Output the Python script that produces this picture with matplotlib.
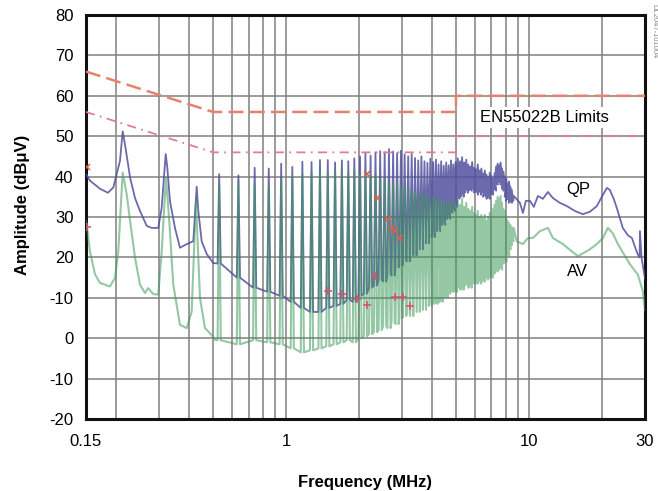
import numpy as np
import matplotlib
matplotlib.use('Agg')
import matplotlib.pyplot as plt
from matplotlib.ticker import LogLocator, NullFormatter

plt.rcParams['font.family'] = ['Liberation Sans', 'DejaVu Sans']

# low end (0.15 - 0.5 MHz), broad peaks
qp_low_f = [0.150, 0.1557, 0.1712, 0.1846, 0.1943, 0.2070, 0.2124, 0.2170, 0.2279, 0.2387,
            0.2502, 0.2667, 0.2796, 0.2976, 0.3074, 0.3193, 0.3241, 0.3324, 0.3486, 0.3655,
            0.3900, 0.4147, 0.4283, 0.4349, 0.4490, 0.4713, 0.5012]
qp_low_db = [40.6, 39.0, 37.0, 36.0, 37.3, 43.9, 51.2, 48.0, 39.7, 34.7,
             31.5, 27.8, 27.3, 27.3, 32.3, 45.6, 42.3, 34.0, 27.3, 22.4,
             23.3, 24.0, 37.5, 31.5, 24.0, 20.8, 18.6]

av_low_f = [0.150, 0.1510, 0.1557, 0.1634, 0.1712, 0.1881, 0.1974, 0.2037, 0.2124, 0.2206,
            0.2279, 0.2387, 0.2502, 0.2624, 0.2706, 0.2838, 0.2976, 0.3074, 0.3201, 0.3303,
            0.3430, 0.3655, 0.3900, 0.4084, 0.4254, 0.4418, 0.4632, 0.4935, 0.5093]
av_low_db = [29.0, 28.2, 21.5, 15.8, 13.7, 12.8, 14.9, 21.5, 41.0, 35.6,
             29.0, 19.9, 13.3, 11.2, 12.4, 10.9, 10.8, 21.5, 39.8, 29.0,
             13.3, 3.3, 2.5, 6.6, 34.0, 10.0, 2.5, 0.8, -0.4]

# switching harmonics 0.53 - 8.5 MHz
harm_f = [0.530, 0.636, 0.742, 0.848, 0.954, 1.060, 1.166, 1.272, 1.378, 1.484,
          1.590, 1.696, 1.802, 1.908, 2.014, 2.120, 2.226, 2.332, 2.438, 2.544,
          2.650, 2.756, 2.862, 2.968, 3.074, 3.180, 3.286, 3.392, 3.498, 3.604,
          3.710, 3.816, 3.922, 4.028, 4.134, 4.240, 4.346, 4.452, 4.558, 4.664,
          4.770, 4.876, 4.982, 5.088, 5.194, 5.300, 5.406, 5.512, 5.618, 5.724,
          5.830, 5.936, 6.042, 6.148, 6.254, 6.360, 6.466, 6.572, 6.678, 6.784,
          6.890, 6.996, 7.102, 7.208, 7.314, 7.420, 7.526, 7.632, 7.738, 7.844,
          7.950, 8.056, 8.162, 8.268, 8.374, 8.480]

qp_peak = [40.6, 40.3, 42.2, 42.0, 43.2, 42.4, 43.7, 43.6, 44.1, 44.1,
           43.5, 44.0, 43.8, 44.5, 45.0, 45.8, 45.2, 46.0,
           46.3, 46.0, 46.8, 46.2, 45.8, 46.4,
           45.5, 45.0, 45.6, 44.6, 44.0, 45.0, 43.8, 43.4,
           44.4, 43.6, 44.2, 43.0, 43.8, 42.7, 43.5, 42.8, 44.0, 43.0, 43.6,
           44.5, 43.8, 44.8, 43.5, 44.2, 43.0, 42.5, 43.6, 42.2, 41.8,
           43.0, 41.5, 42.0, 40.8, 41.5, 40.5, 39.8, 41.0, 40.2, 39.5,
           40.8, 42.5, 43.2, 42.8, 43.5, 42.0, 41.2, 40.0, 39.5, 38.2,
           38.8, 37.5, 36.8]
qp_valley = [18.5, 15.0, 12.5, 11.5, 10.5, 9.0, 7.5, 6.5, 6.5, 7.5,
             8.0, 8.5, 9.5, 9.0, 10.5, 11.0, 12.5, 13.0,
             14.5, 14.0, 16.0, 15.5, 17.5, 18.0,
             19.5, 19.0, 21.0, 20.5, 22.5, 22.0, 24.0, 23.5,
             25.5, 25.0, 27.0, 26.5, 28.5, 28.0, 30.0, 29.5, 31.0, 31.5, 32.5,
             34.5, 36.0, 35.0, 37.5, 36.0, 38.0, 36.5, 37.0, 38.5, 36.0,
             37.5, 35.5, 37.0, 36.0, 35.0, 36.5, 34.5, 36.0, 35.5, 37.0,
             36.5, 38.0, 39.0, 38.5, 39.5, 38.0, 37.0, 36.5, 35.0, 34.0,
             35.0, 33.5, 34.0]

av_peak = [38.0, 39.0, 38.2, 37.0, 39.0, 40.0, 40.5, 41.0, 41.5, 41.0,
           41.5, 42.0, 41.0, 41.5, 40.5, 41.0, 40.0, 40.5,
           39.0, 39.5, 38.5, 38.0, 38.5, 37.5,
           37.0, 36.5, 37.0, 36.0, 35.5, 36.0, 35.0, 35.5,
           34.5, 35.0, 34.0, 34.5, 33.5, 34.0, 33.0, 34.0, 33.5, 32.5, 33.0,
           34.0, 33.0, 34.5, 32.5, 33.5, 32.0, 31.5, 32.5, 31.0, 30.5,
           31.5, 30.0, 30.5, 29.5, 30.5, 29.0, 30.0, 31.0, 30.0, 32.0,
           33.0, 34.0, 35.0, 34.5, 35.2, 33.5, 32.0, 31.5, 30.0, 29.0,
           28.5, 28.0, 27.5]
av_valley = [-0.5, -1.5, -0.5, -1.0, -1.5, -2.5, -3.5, -3.0, -2.5, -2.0,
             -1.5, -1.0, -0.5, -1.0, 0.0, 0.5, 1.0, 1.5,
             2.0, 3.0, 2.5, 4.0, 3.5, 5.0,
             5.5, 6.0, 5.5, 7.0, 6.5, 7.5, 7.0, 8.5,
             8.0, 9.0, 8.5, 9.5, 9.0, 10.5, 10.0, 11.0, 11.5, 12.0, 11.5,
             12.5, 14.0, 12.0, 15.0, 13.0, 14.5, 12.5, 15.5, 13.5, 14.0,
             16.0, 13.5, 15.0, 14.0, 16.5, 14.5, 15.5, 17.0, 15.0, 16.0,
             18.0, 16.5, 17.5, 19.0, 17.0, 18.5, 20.0, 19.0, 21.0, 20.5,
             22.0, 23.0, 24.0]

# high end (8.6 - 30 MHz)
qp_high_f = [8.65, 9.17, 9.43, 9.70, 10.08, 10.46, 10.87, 11.40, 11.95, 12.53,
             13.39, 14.31, 15.43, 16.64, 17.80, 19.00, 19.93, 20.90, 21.50, 22.30,
             22.98, 24.30, 25.50, 26.50, 27.50, 28.00, 28.50, 28.60, 29.05, 29.66, 30.0]
qp_high_db = [35.2, 33.5, 31.0, 34.0, 34.0, 32.5, 35.2, 34.5, 36.2, 34.7,
              33.5, 32.7, 31.5, 30.7, 31.3, 32.7, 35.0, 37.2, 36.7, 34.5,
              32.2, 27.3, 25.5, 24.8, 22.0, 20.8, 20.0, 26.5, 19.8, 16.5, 14.8]

av_high_f = [8.65, 8.89, 9.43, 9.89, 10.37, 11.08, 11.95, 12.53, 13.77, 15.88,
             17.80, 19.00, 20.13, 21.10, 22.10, 23.20, 26.00, 28.00, 29.40, 30.0]
av_high_db = [27.3, 24.0, 23.3, 24.8, 24.8, 26.5, 27.3, 24.8, 23.3, 20.3,
              22.0, 23.3, 24.8, 27.3, 26.0, 23.3, 18.3, 15.8, 11.6, 7.0]

# EN55022B class B limits
lim_f = [0.15, 0.5, 5.0, 5.0, 30.0]
lim_qp = [66, 56, 56, 60, 60]
lim_av = [56, 46, 46, 50, 50]

# analyzer peak markers
mark_x_f = [0.151, 2.15, 2.36, 2.62, 2.73, 2.80, 2.94]
mark_x_db = [42.5, 40.7, 34.7, 29.5, 27.4, 26.6, 24.8]
mark_p_f = [0.151, 1.486, 1.70, 1.96, 2.15, 2.32, 2.80, 3.02, 3.23]
mark_p_db = [27.5, 11.6, 10.9, 9.6, 8.3, 15.3, 10.2, 10.2, 7.9]

ytick_vals = [-20, -10, 0, 10, 20, 30, 40, 50, 60, 70, 80]
ytick_text = ['-20', '-10', '0', '-10', '20', '30', '40', '50', '60', '70', '80']
xtick_vals = [0.15, 1, 10, 30]
xtick_text = ['0.15', '1', '10', '30']


def build_trace(f_low, db_low, peaks, valleys, f_high, db_high, w=0.015):
    xs, ys = list(f_low), list(db_low)
    for f, pk, vl in zip(harm_f, peaks, valleys):
        xs += [f * (1 - w), f, f * (1 + w)]
        ys += [vl, pk, vl]
    xs += f_high
    ys += db_high
    return xs, ys


fig = plt.figure(figsize=(6.58, 4.91), dpi=100)
ax = fig.add_axes([86/658, 1 - 419/491, 559/658, 404/491])
ax.set_xscale('log')

qx, qy = build_trace(qp_low_f, qp_low_db, qp_peak, qp_valley, qp_high_f, qp_high_db)
vx, vy = build_trace(av_low_f, av_low_db, av_peak, av_valley, av_high_f, av_high_db)

ax.plot(qx, qy, color='#50509e', lw=1.3, alpha=0.85, zorder=3)
ax.plot(vx, vy, color='#3f9a5c', lw=1.5, alpha=0.55, zorder=4)

l1, = ax.plot(lim_f, lim_qp, color='#e8806e', lw=1.8, zorder=5)
l1.set_dashes((6, 2.5))
l2, = ax.plot(lim_f, lim_av, color='#e57a90', lw=1.3, zorder=5)
l2.set_dashes((5, 3, 1, 3))

ax.plot(mark_x_f, mark_x_db, 'x', color='#d9604f', ms=5, mew=1.1, zorder=6)
ax.plot(mark_p_f, mark_p_db, '+', color='#d9506a', ms=6, mew=1.1, zorder=6)

ax.set_xlim(0.15, 30)
ax.set_ylim(-20, 80)
ax.set_xticks(xtick_vals)
ax.set_xticklabels(xtick_text)
ax.xaxis.set_minor_locator(LogLocator(base=10, subs=np.arange(2, 10)))
ax.xaxis.set_minor_formatter(NullFormatter())
ax.set_yticks(ytick_vals)
ax.set_yticklabels(ytick_text)
ax.tick_params(which='both', length=0, labelsize=12)
ax.tick_params(axis='y', pad=9)
ax.tick_params(axis='x', pad=11)

ax.set_axisbelow(True)
ax.grid(which='both', axis='x', color='#808080', lw=1.1)
ax.grid(which='major', axis='y', color='#808080', lw=1.1)
for s in ax.spines.values():
    s.set_linewidth(2.2)
    s.set_color('#111111')

ax.set_xlabel('Frequency (MHz)', fontsize=12, fontweight='bold')
ax.set_ylabel('Amplitude (dB\u03bcV)', fontsize=12, fontweight='bold')
ax.xaxis.set_label_coords(0.499, -0.138)
ax.yaxis.set_label_coords(-0.100, 0.53)

ax.text(6.26, 54.6, 'EN55022B Limits', fontsize=12, ha='left', va='center',
        bbox=dict(facecolor='white', edgecolor='none', pad=2), zorder=7)
ax.text(15.9, 36.7, 'QP', fontsize=12, ha='center', va='center', zorder=7)
ax.text(15.8, 16.6, 'AV', fontsize=12, ha='center', va='center', zorder=7)

fig.text(654/658, 1 - 4/491, 'DL2047-101004', fontsize=5.5, color='#888888',
         rotation=-90, ha='center', va='top')

fig.savefig('out.png', dpi=100)
